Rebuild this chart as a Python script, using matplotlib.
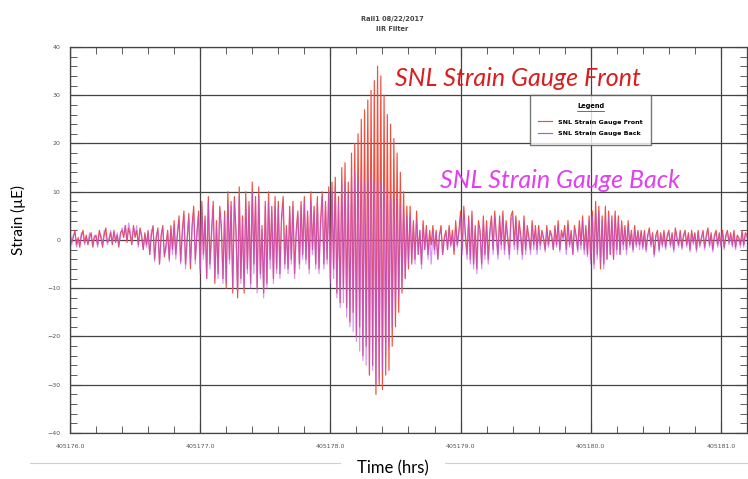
import numpy as np
import matplotlib
matplotlib.use('Agg')
import matplotlib.pyplot as plt
from matplotlib.lines import Line2D
from matplotlib.ticker import MultipleLocator, FormatStrFormatter

# time axis (hrs) : uniform sampling from t_start with step t_step
t_start = 405176.0
t_step = 0.0125

# strain values (uE), 16 samples per 0.2 hr
front = [1.5, -0.5, 0.5, 2, -1, 0.5, -1.5, 1, 2, -0.5, 1, -1, 0.5, 1.5, -1.5, 0.5,
         1, -1, 2, 0.5, -1.5, 1, 2.5, -0.5, 0, 1.5, -1, 2, -0.5, 1, -1.5, 1.5,
         2, 0.5, 3, -0.5, 2.5, 1, -1, 3, 0.5, 2, -1, 2.5, 1, -2, 1.5, -1,
         2, -3, 1, 3, -4, 0.5, 2.5, -5, 1, 3, -3.5, -1, 2, -4, 3, -2,
         4, -3, 1, 5, -4.5, 2, 6, -5, 0, 5.5, -6, 3, 7, -4, 1, 6,
         -6, 8, -3, 5, -8, 9, -5, 2, 8, -9, 4, -7, 7, 3, -8, 6,
         -10, 10, -4, 8, -11, 9, 2, -12, 11, -8, 5, -11, 10, -6, 8, -9,
         12, -5, 9, -10, 11, -7, 3, -11, 8, -9, 10, -4, 7, -8, 9, -6,
         8, -7, 5, 9, -5, 3, -6, 7, -4, 8, -7, 2, 6, -5, 8, -3,
         9, -4, 6, -6, 10, -2, 7, -5, 9, -6, 4, 10, -5, 8, -4, 11,
         -8, 12, -6, 13, -11, 9, -13, 15, -10, 16, -14, 12, -17, 18, -15, 20,
         -20, 22, -18, 25, -24, 27, -22, 29, -28, 31, -26, 33, -32, 36, -30, 34,
         -31, 30, -28, 26, -27, 24, -22, 21, -18, 18, -15, 14, -11, 10, -8, 7,
         -6, 7, -5, 4, -4, 6, -3, 2, -5, 4, -2, 3, -3, 2, -1, 3,
         -2, 2, -4, 1, 3, -3, 0.5, 2, -2, 3, -1, 2, -3, 4, -1, 2,
         6, -2, 7, 1, -3, 5, -4, 6, -5, 3, -6, 4, 2, -5, 5, -3,
         4, -4, 2, 5, -2, 6, 1, -3, 5, -1, 6, -2, 4, 0.5, -3, 5,
         6, -1, 5, -2, 4, 1, -3, 5, -2, 3, 0.5, -2, 4, -1, 3, -2,
         3, -1, 2, 0.5, -2, 3, -1, 2, 1, -2, 3, -1, 4, -2, 2, 0.5,
         3, -2, 4, -1, 2, -3, 3, 1, -2, 4, -1, 5, -2, 3, -3, 5,
         -4, 6, -5, 8, -3, 7, -6, 5, -5, 7, -4, 6, -3, 5, -4, 6,
         -2, 5, -3, 4, -1, 3, -2, 4, -1, 2, -2, 3, -1, 2, -1, 2,
         -1.5, 2, -2, 1, 2.5, -1, 1.5, -3, 1, 2, -2, 1.5, -1, 2, -1.5, 1,
         2, -1, 1.5, -2, 2.5, 0.5, -1, 2, -1.5, 1, 2, -1, 1.5, -2, 2, -0.5,
         1.5, -2, 2, -1, 0.5, 2, -1.5, 1, 2.5, -1, 1.5, -2, 1, 2, -1, 1.5,
         -1, 2, -1.5, 1, 2, -0.5, 1.5, -1, 2, -1.5, 1, 0.5, -1, 2, -1, 1.5,
         1]

back = [0.5, -1, 1, 1.5, -1.5, 0, -1, 1.5, 1, -1, 0.5, -0.5, 1.5, 0.5, -1, 1,
        0.5, -1.5, 1.5, 1, -1, 2, 1, -1, 0.5, 2, -0.5, 1.5, 0, 1.5, -1, 1,
        2.5, 1, 3, 0, 3.5, 2, -0.5, 2.5, 1, 3, -1.5, 2, 0.5, -2, 1, -1.5,
        1.5, -3, 2, 2.5, -4.5, 1, 2, -5, 0.5, 2.5, -3, -2, 1.5, -4.5, 2, -3,
        3, -4, 2, 4, -5, 1, 5, -6, 1, 4.5, -5, 2, 6, -5, 2, 5,
        -7, 7, -4, 4, -8, 8, -6, 1, 7, -8, 3, -8, 6, 2, -9, 5,
        -9, 8, -5, 7, -10, 8, 1, -11, 9, -9, 4, -10, 8, -7, 7, -10,
        10, -7, 8, -11, 9, -8, 2, -12, 7, -10, 8, -6, 6, -9, 7, -7,
        7, -8, 4, 7, -6, 2, -7, 6, -5, 7, -8, 1, 5, -6, 7, -4,
        8, -5, 5, -7, 8, -3, 6, -6, 8, -7, 3, 9, -6, 7, -5, 10,
        -9, 10, -8, 11, -12, 8, -14, 12, -13, 12, -16, 10, -18, 13, -19, 14,
        -21, 13, -23, 14, -25, 12, -26, 13, -28, 14, -27, 12, -30, 13, -29, 12,
        -27, 11, -24, 10, -22, 9, -18, 8, -15, 9, -12, 7, -10, 6, -8, 5,
        -5, 5, -4, 3, -5, 4, -3, 2, -6, 3, -2, 2, -4, 1, -5, 2,
        -3, 1.5, -4, 1, 2, -3, 0, 1.5, -2, 2.5, -1.5, 1, -2, 3, -1.5, 1.5,
        5, -3, 6, 0, -4, 4, -5, 5, -6, 2, -7, 3, 1, -6, 4, -4,
        3, -5, 1, 4, -3, 5, 0, -4, 4, -2, 5, -3, 3, 0, -4, 4,
        5, -2, 4, -3, 3, 0, -4, 4, -3, 2, 0, -3, 3, -2, 2, -3,
        2, -2, 1.5, 0, -2.5, 2, -1.5, 1.5, 0.5, -2, 2, -1.5, 3, -2.5, 1.5, 0,
        2, -3, 3, -1.5, 1.5, -3, 2, 0.5, -2.5, 3, -2, 4, -3, 2, -3.5, 4,
        -5, 5, -6, 6, -4, 6, -5, 4, -6, 5, -4, 5, -3, 4, -4, 5,
        -3, 4, -3, 3, -2, 2, -3, 3, -1.5, 1.5, -2.5, 2, -1.5, 1.5, -2, 1.5,
        -2, 1.5, -2.5, 0.5, 2, -1.5, 1, -3.5, 0.5, 1.5, -2.5, 1, -1.5, 1.5, -2, 0.5,
        1.5, -1.5, 1, -2.5, 2, 0, -1.5, 1.5, -2, 0.5, 1.5, -1.5, 1, -2.5, 1.5, -1,
        1, -2.5, 1.5, -1.5, 0, 1.5, -2, 0.5, 2, -1.5, 1, -2.5, 0.5, 1.5, -1.5, 1,
        -1.5, 1.5, -2, 0.5, 1.5, -1, 1, -1.5, 1.5, -2, 0.5, 0, -1.5, 1.5, -1.5, 1,
        0.5]

series_names = ['SNL Strain Gauge Front', 'SNL Strain Gauge Back']

time = t_start + t_step * np.arange(len(front))

fig = plt.figure(figsize=(7.48, 4.79), dpi=100)
ax = fig.add_axes([0.0936, 0.096, 0.905, 0.806])

ax.plot(time, front, color='#ee5040', lw=0.85, label=series_names[0])
ax.plot(time, back, color='#b94ff0', lw=0.85, alpha=0.6, label=series_names[1])

ax.set_xlim(405176.0, 405181.2)
ax.set_ylim(-40, 40)

# ticks in on all sides, grid on the major ones
ax.xaxis.set_major_locator(MultipleLocator(1.0))
ax.xaxis.set_minor_locator(MultipleLocator(0.2))
ax.yaxis.set_major_locator(MultipleLocator(10))
ax.yaxis.set_minor_locator(MultipleLocator(2))
ax.xaxis.set_major_formatter(FormatStrFormatter('%.1f'))
ax.tick_params(which='both', direction='in', top=True, right=True,
               labelsize=4.5, labelcolor='#555555', color='#444444')
ax.tick_params(which='major', length=8)
ax.tick_params(which='minor', length=5)
ax.tick_params(axis='x', which='major', pad=8)
ax.tick_params(axis='y', which='major', pad=7)
ax.grid(True, which='major', color='#444444', lw=0.9)
ax.set_axisbelow(True)
for s in ax.spines.values():
    s.set_color('#444444')
    s.set_linewidth(0.9)

# title
fig.text(392 / 748, 1 - 24 / 479, 'Rail1 08/22/2017\nIIR Filter', ha='center', va='center',
         fontsize=4.8, fontweight='bold', color='#444444', linespacing=1.7)

# legend box
leg = ax.legend(loc='upper left', bbox_to_anchor=(530 / 748, 1 - 95 / 479),
                bbox_transform=fig.transFigure, title='Legend', fontsize=4.6,
                title_fontsize=4.8, frameon=True, fancybox=False, shadow=False,
                edgecolor='#555555', borderpad=1.3, handlelength=2.2,
                handletextpad=0.9, labelspacing=1.0, borderaxespad=0)
leg.get_frame().set_linewidth(1.0)
leg.get_title().set_fontweight('bold')
leg._legend_box.sep = 7
for txt in leg.get_texts():
    txt.set_fontweight('bold')
for h in leg.get_lines():
    h.set_alpha(1.0)

# underline under the legend title
fig.canvas.draw()
bb = leg.get_title().get_window_extent().transformed(fig.transFigure.inverted())
fig.add_artist(Line2D([bb.x0, bb.x1], [bb.y0 - 0.003, bb.y0 - 0.003],
                      color='#333333', lw=0.5))

# series annotations
ax.text(395 / 748, 1 - 78 / 479, series_names[0], transform=fig.transFigure,
        fontsize=18, fontstyle='italic', family='Lato', color='#d81e1e', va='center')
ax.text(440 / 748, 1 - 181 / 479, series_names[1], transform=fig.transFigure,
        fontsize=18, fontstyle='italic', family='Lato', color='#e040f0', va='center')

# axis labels
fig.text(18 / 748, 1 - 220 / 479, 'Strain (µE)', rotation=90, ha='center', va='center',
         fontsize=11, family='Lato')
fig.text(393 / 748, 1 - 468 / 479, 'Time (hrs)', ha='center', va='center',
         fontsize=12, family='Lato')
for x0, x1 in [(30, 340), (445, 748)]:
    fig.add_artist(Line2D([x0 / 748, x1 / 748], [1 - 463 / 479, 1 - 463 / 479],
                          color='#d0d0d0', lw=0.8))

fig.savefig('out.png', dpi=100)
